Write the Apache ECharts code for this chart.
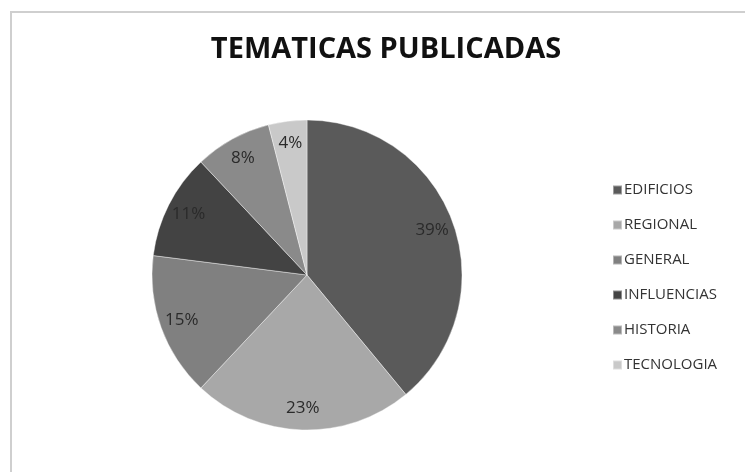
<!DOCTYPE html>
<html>
<head>
<meta charset="utf-8">
<script src="https://cdn.jsdelivr.net/npm/echarts@6/dist/echarts.min.js"></script>
<style>
  html, body { margin: 0; padding: 0; background: #fff; }
  #frame { position: absolute; left: 10px; top: 11px; width: 735px; height: 461px;
           border-top: 2px solid #cfcfcf; border-left: 2px solid #cfcfcf; }
  #chart { position: absolute; left: 0; top: 0; width: 745px; height: 472px; }
</style>
</head>
<body>
<div id="frame"></div>
<div id="chart"></div>
<script>
// categories and values
var categories = ['EDIFICIOS', 'REGIONAL', 'GENERAL', 'INFLUENCIAS', 'HISTORIA', 'TECNOLOGIA'];
var percents   = [39, 23, 15, 11, 8, 4];
var sliceColors = ['#5a5a5a', '#a8a8a8', '#808080', '#434343', '#8a8a8a', '#c9c9c9'];

function buildPie() {
    var chartDom = document.getElementById('chart');
    var chart = echarts.init(chartDom);

    var filled = [],
        labels = [];
    for (var i = 0; i < categories.length; i++) {
        filled.push({
            name: categories[i],
            value: percents[i],
            itemStyle: { color: sliceColors[i] }
        });
        labels.push({ name: categories[i], value: percents[i] });
    }

    var option = {
        backgroundColor: 'transparent',
        animation: false,
        title: {
            text: 'TEMATICAS PUBLICADAS',
            left: 381,
            textAlign: 'center',
            top: 30,
            textStyle: {
                fontFamily: 'Open Sans',
                fontWeight: 'bold',
                fontSize: 29,
                color: '#111'
            }
        },
        legend: {
            orient: 'vertical',
            left: 607,
            top: 177,
            itemWidth: 9,
            itemHeight: 9,
            itemGap: 19,
            icon: 'rect',
            data: categories,
            textStyle: {
                fontFamily: 'Open Sans',
                fontSize: 15,
                lineHeight: 16,
                color: '#333',
                padding: [0, 0, 0, -3]
            }
        },
        series: [
            {
                // the coloured slices
                type: 'pie',
                center: [307, 275],
                radius: [0, 155],
                startAngle: 90,
                clockwise: true,
                silent: true,
                label: { show: false },
                labelLine: { show: false },
                itemStyle: { borderColor: 'rgba(255,255,255,0.4)', borderWidth: 1 },
                data: filled
            },
            {
                // invisible ring that carries the percent labels further out
                type: 'pie',
                center: [307, 275],
                radius: [105, 155],
                startAngle: 90,
                clockwise: true,
                silent: true,
                legendHoverLink: false,
                itemStyle: { color: 'rgba(0,0,0,0)' },
                label: {
                    show: true,
                    position: 'inside',
                    formatter: '{c}%',
                    fontFamily: 'Open Sans',
                    fontSize: 17,
                    color: '#2a2a2a'
                },
                labelLine: { show: false },
                data: labels
            }
        ]
    };

    chart.setOption(option);
}

buildPie();
</script>
</body>
</html>
